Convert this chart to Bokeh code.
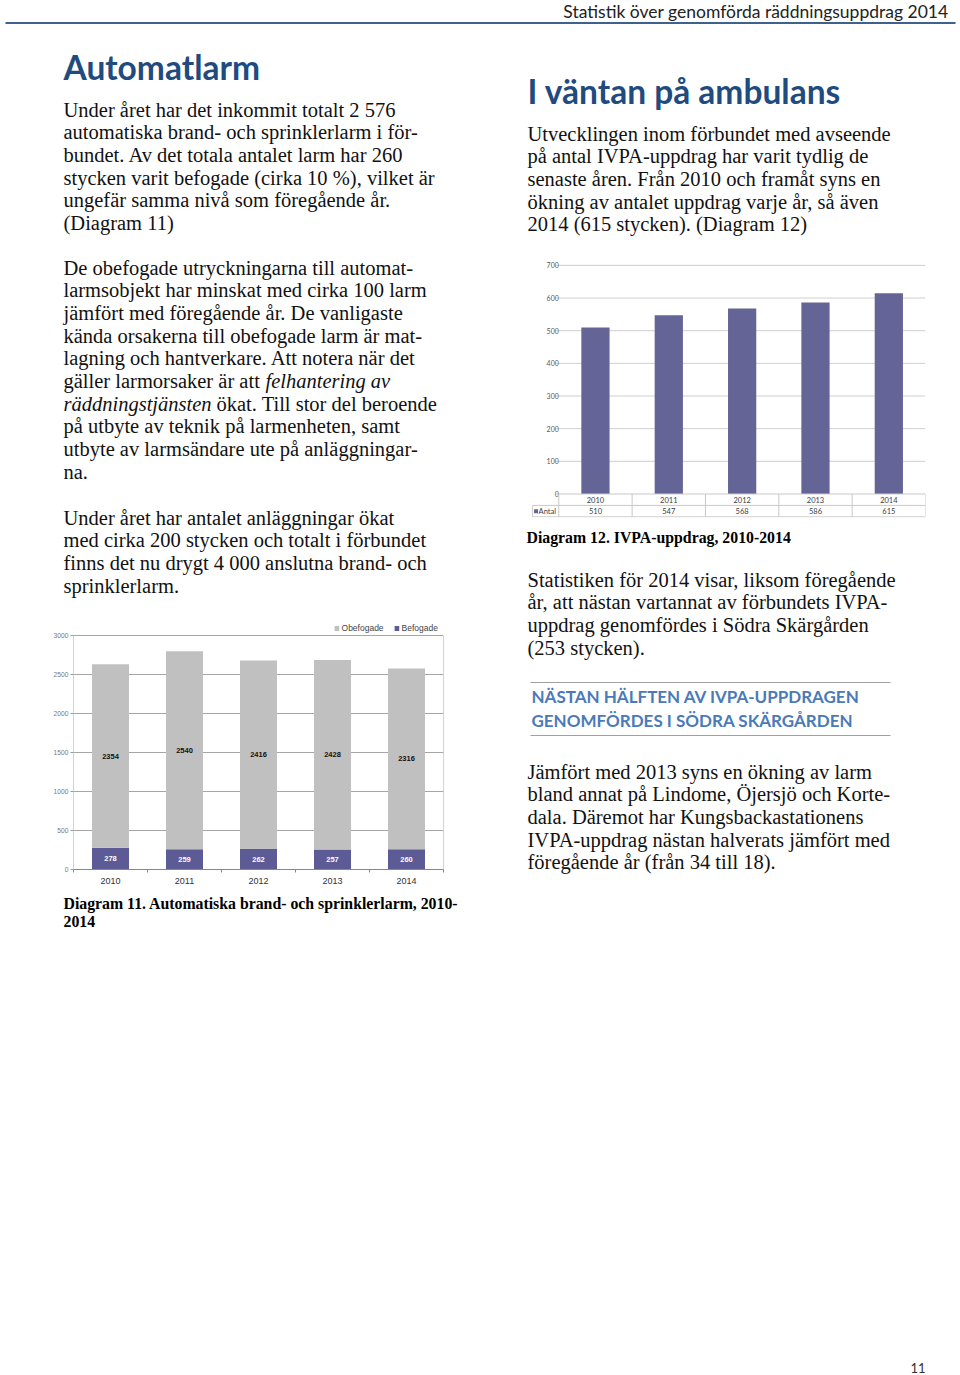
from bokeh.plotting import figure
from bokeh.models import Range1d, FixedTicker, Legend, LegendItem, ColumnDataSource
from bokeh.layouts import column, row
from bokeh.core.properties import value
from bokeh.embed import file_html
from bokeh.resources import INLINE

# ---------------- data ----------------
years = ["2010", "2011", "2012", "2013", "2014"]
obefogade = [2354, 2540, 2416, 2428, 2316]
befogade = [278, 259, 262, 257, 260]
ivpa = [510, 547, 568, 586, 615]
y_ticks_11 = [0, 500, 1000, 1500, 2000, 2500, 3000]
y_ticks_12 = [0, 100, 200, 300, 400, 500, 600, 700]
series_11 = ["Obefogade", "Befogade"]
series_12 = "Antal"

header = "Statistik över genomförda räddningsuppdrag 2014"
title_left = "Automatlarm"
title_right = "I väntan på ambulans"
para_l1 = [
    "Under året har det inkommit totalt 2 576",
    "automatiska brand- och sprinklerlarm i för-",
    "bundet. Av det totala antalet larm har 260",
    "stycken varit befogade (cirka 10 %), vilket är",
    "ungefär samma nivå som föregående år.",
    "(Diagram 11)",
]
para_l2 = [
    "De obefogade utryckningarna till automat-",
    "larmsobjekt har minskat med cirka 100 larm",
    "jämfört med föregående år. De vanligaste",
    "kända orsakerna till obefogade larm är mat-",
    "lagning och hantverkare. Att notera när det",
    "gäller larmorsaker är att",
    "",
    "på utbyte av teknik på larmenheten, samt",
    "utbyte av larmsändare ute på anläggningar-",
    "na.",
]
para_l2_italic = ["felhantering av", "räddningstjänsten"]
para_l2_rest = "ökat. Till stor del beroende"
para_l3 = [
    "Under året har antalet anläggningar ökat",
    "med cirka 200 stycken och totalt i förbundet",
    "finns det nu drygt 4 000 anslutna brand- och",
    "sprinklerlarm.",
]
caption_11 = ["Diagram 11. Automatiska brand- och sprinklerlarm, 2010-", "2014"]
para_r1 = [
    "Utvecklingen inom förbundet med avseende",
    "på antal IVPA-uppdrag har varit tydlig de",
    "senaste åren. Från 2010 och framåt syns en",
    "ökning av antalet uppdrag varje år, så även",
    "2014 (615 stycken). (Diagram 12)",
]
caption_12 = "Diagram 12. IVPA-uppdrag, 2010-2014"
para_r2 = [
    "Statistiken för 2014 visar, liksom föregående",
    "år, att nästan vartannat av förbundets IVPA-",
    "uppdrag genomfördes i Södra Skärgården",
    "(253 stycken).",
]
callout = ["NÄSTAN HÄLFTEN AV IVPA-UPPDRAGEN", "GENOMFÖRDES I SÖDRA SKÄRGÅRDEN"]
para_r3 = [
    "Jämfört med 2013 syns en ökning av larm",
    "bland annat på Lindome, Öjersjö och Korte-",
    "dala. Däremot har Kungsbackastationens",
    "IVPA-uppdrag nästan halverats jämfört med",
    "föregående år (från 34 till 18).",
]
page_number = "11"

# ---------------- styles ----------------
BODY = "Liberation Serif"
BODY_SIZE = "20.5px"
STEP = 22.7
SANS = "Lato"
HEAD_COLOR = "#1f4b7f"
CALLOUT_COLOR = "#4a7ab8"
PURPLE = "#5c5b95"
GRAY = "#c0c0c0"
BAR12 = "#646496"
PAGE_H = 1374


def canvas(w, h, x0, y0):
    p = figure(width=w, height=h, x_range=Range1d(x0, x0 + w), y_range=Range1d(y0 + h, y0),
               min_border=0, toolbar_location=None, output_backend="svg",
               x_axis_location=None, y_axis_location=None, outline_line_color=None,
               frame_align=False)
    p.grid.visible = False
    return p


def put(p, xs, ys, texts, font=BODY, size=BODY_SIZE, color="#111111", style="normal",
        align="left", baseline="middle"):
    src = ColumnDataSource(dict(x=xs, y=ys, t=texts))
    p.text("x", "y", text="t", source=src, text_font=value(font), text_font_size=size,
           text_color=color, text_font_style=style, text_align=align, text_baseline=baseline,
           text_line_height=1.0)


def para(p, x, y0, lines, step=STEP, **kw):
    put(p, [x] * len(lines), [y0 + i * step for i in range(len(lines))], lines, **kw)


# ---------------- top canvas ----------------
top = canvas(958, 255, 0, 0)
put(top, [948], [10.5], [header], font=SANS, size="17.5px", color="#222222", align="right")
top.segment(x0=[5], y0=[22.5], x1=[955], y1=[22.5], line_color="#3f6190", line_width=2)
put(top, [63], [66], [title_left], font=SANS, size="33.5px", color=HEAD_COLOR, style="bold")
put(top, [527], [90], [title_right], font=SANS, size="33.5px", color=HEAD_COLOR, style="bold")
para(top, 63, 109, para_l1)
para(top, 527, 133, para_r1)

# ---------------- left middle text ----------------
lt = canvas(478, 360, 0, 255)
para(lt, 63, 267, para_l2)
put(lt, [265], [267 + 5 * STEP], [para_l2_italic[0]], style="italic")
put(lt, [63], [267 + 6 * STEP], [para_l2_italic[1]], style="italic")
put(lt, [216], [267 + 6 * STEP], [para_l2_rest])
para(lt, 63, 517, para_l3)

# ---------------- chart 11 ----------------
xs = [i + 0.5 for i in range(len(years))]
tot = [b + o for b, o in zip(befogade, obefogade)]
src1 = ColumnDataSource(dict(
    x=xs, bef=befogade, tot=tot,
    mid_b=[b / 2 for b in befogade],
    mid_o=[b + o / 2 for b, o in zip(befogade, obefogade)],
    lb=[str(v) for v in befogade], lo=[str(v) for v in obefogade]))

p1 = figure(width=478, height=280, x_range=Range1d(0, len(years)), y_range=Range1d(0, 3218),
            min_border_left=73, min_border_right=35, min_border_top=3, min_border_bottom=26,
            toolbar_location=None, output_backend="svg", outline_line_color=None,
            frame_align=False)
p1.xgrid.visible = False
p1.ygrid.ticker = FixedTicker(ticks=y_ticks_11)
p1.ygrid.grid_line_color = "#a6a6a6"
p1.yaxis.ticker = FixedTicker(ticks=y_ticks_11)
p1.yaxis.axis_line_color = None
p1.yaxis.major_tick_out = 3
p1.yaxis.major_tick_in = 0
p1.yaxis.minor_tick_line_color = None
p1.yaxis.major_tick_line_color = "#999999"
p1.yaxis.major_label_text_font = "Liberation Sans"
p1.yaxis.major_label_text_font_size = "6.7px"
p1.yaxis.major_label_text_color = "#777777"
p1.yaxis.major_label_standoff = 2
p1.xaxis.ticker = FixedTicker(ticks=xs, minor_ticks=list(range(len(years) + 1)))
p1.xaxis.major_label_overrides = {x: y for x, y in zip(xs, years)}
p1.xaxis.major_tick_out = 0
p1.xaxis.major_tick_in = 0
p1.xaxis.minor_tick_out = 3
p1.xaxis.minor_tick_in = 0
p1.xaxis.minor_tick_line_color = "#888888"
p1.xaxis.axis_line_color = "#888888"
p1.xaxis.major_label_text_font = "Liberation Sans"
p1.xaxis.major_label_text_font_size = "9px"
p1.xaxis.major_label_text_color = "#333333"
p1.xaxis.major_label_standoff = 5

p1.segment(x0=[0, len(years)], y0=[0, 0], x1=[0, len(years)], y1=[y_ticks_11[-1]] * 2,
           line_color="#a6a6a6", line_width=1)
r_b = p1.vbar(x="x", width=0.5, bottom=0, top="bef", source=src1, fill_color=PURPLE, line_color=None)
r_o = p1.vbar(x="x", width=0.5, bottom="bef", top="tot", source=src1, fill_color=GRAY, line_color=None)
p1.text(x="x", y="mid_o", text="lo", source=src1, text_font=value("Liberation Sans"),
        text_font_size="7.5px", text_font_style="bold", text_color="#111111",
        text_align="center", text_baseline="middle")
p1.text(x="x", y="mid_b", text="lb", source=src1, text_font=value("Liberation Sans"),
        text_font_size="7.5px", text_font_style="bold", text_color="#ffffff",
        text_align="center", text_baseline="middle")
legend = Legend(items=[LegendItem(label=series_11[0], renderers=[r_o]),
                       LegendItem(label=series_11[1], renderers=[r_b])],
                location="top_right", orientation="horizontal", glyph_width=6, glyph_height=6,
                label_text_font="Liberation Sans", label_text_font_size="8.5px",
                label_text_color="#444444", label_standoff=2, spacing=10, padding=0, margin=5,
                label_height=8, border_line_color=None, background_fill_alpha=0)
p1.add_layout(legend)

# ---------------- left bottom ----------------
lb = canvas(478, PAGE_H - 895, 0, 895)
para(lb, 63, 903, caption_11, step=18, size="15.8px", style="bold", color="#000000")

# ---------------- chart 12 ----------------
n = len(years)
p2 = figure(width=480, height=272, x_range=Range1d(-0.372, n), y_range=Range1d(-72, 718),
            min_border_left=53, min_border_right=33, min_border_top=4, min_border_bottom=10,
            toolbar_location=None, output_backend="svg", outline_line_color=None,
            x_axis_location=None, y_axis_location=None, frame_align=False)
p2.grid.visible = False
gl = y_ticks_12[1:]
p2.segment(x0=[0] * len(gl), x1=[n] * len(gl), y0=gl, y1=gl, line_color="#cfcfcf", line_width=1)
p2.segment(x0=[-0.04] * len(y_ticks_12), x1=[0] * len(y_ticks_12), y0=y_ticks_12, y1=y_ticks_12,
           line_color="#cfcfcf", line_width=1)
put(p2, [0] * len(y_ticks_12), y_ticks_12, [str(t) for t in y_ticks_12], font=SANS, size="7px",
    color="#595959", align="right")
src2 = ColumnDataSource(dict(x=xs, v=ivpa, lab=[str(v) for v in ivpa], yr=years))
p2.vbar(x="x", width=0.385, bottom=0, top="v", source=src2, fill_color=BAR12, line_color=None)
# data table below the plot
row_h = 35
p2.segment(x0=[0, -0.36, -0.36], x1=[n, n, n], y0=[0, -row_h, -2 * row_h], y1=[0, -row_h, -2 * row_h],
           line_color="#c8c8c8", line_width=1)
vx = list(range(n + 1))
p2.segment(x0=vx, x1=vx, y0=[0] * len(vx), y1=[-2 * row_h] * len(vx), line_color="#c8c8c8", line_width=1)
p2.segment(x0=[-0.36], x1=[-0.36], y0=[-row_h], y1=[-2 * row_h], line_color="#c8c8c8", line_width=1)
p2.text(x="x", y=-row_h / 2, text="yr", source=src2, text_font=value(SANS), text_font_size="7.5px",
        text_color="#404040", text_align="center", text_baseline="middle")
p2.text(x="x", y=-1.5 * row_h, text="lab", source=src2, text_font=value(SANS), text_font_size="7.5px",
        text_color="#404040", text_align="center", text_baseline="middle")
p2.scatter(x=[-0.31], y=[-1.5 * row_h], marker="square", size=4, fill_color=BAR12, line_color=None)
put(p2, [-0.275], [-1.5 * row_h], [series_12], font=SANS, size="7.5px", color="#404040")

# ---------------- right bottom ----------------
rb = canvas(480, PAGE_H - 527, 478, 527)
put(rb, [526], [537], [caption_12], size="15.8px", style="bold", color="#000000")
para(rb, 527, 579, para_r2)
rb.segment(x0=[530, 530], x1=[890, 890], y0=[682, 735], y1=[682, 735],
           line_color="#a0a0a0", line_width=1)
para(rb, 531, 696, callout, step=24, font=SANS, size="17px", color=CALLOUT_COLOR, style="bold")
para(rb, 527, 771, para_r3)
put(rb, [925], [1367], [page_number], font=SANS, size="13px", color="#333333", align="right")

layout = column(top, row(column(lt, p1, lb), column(p2, rb)))
open("out.html", "w").write(file_html(layout, INLINE))
